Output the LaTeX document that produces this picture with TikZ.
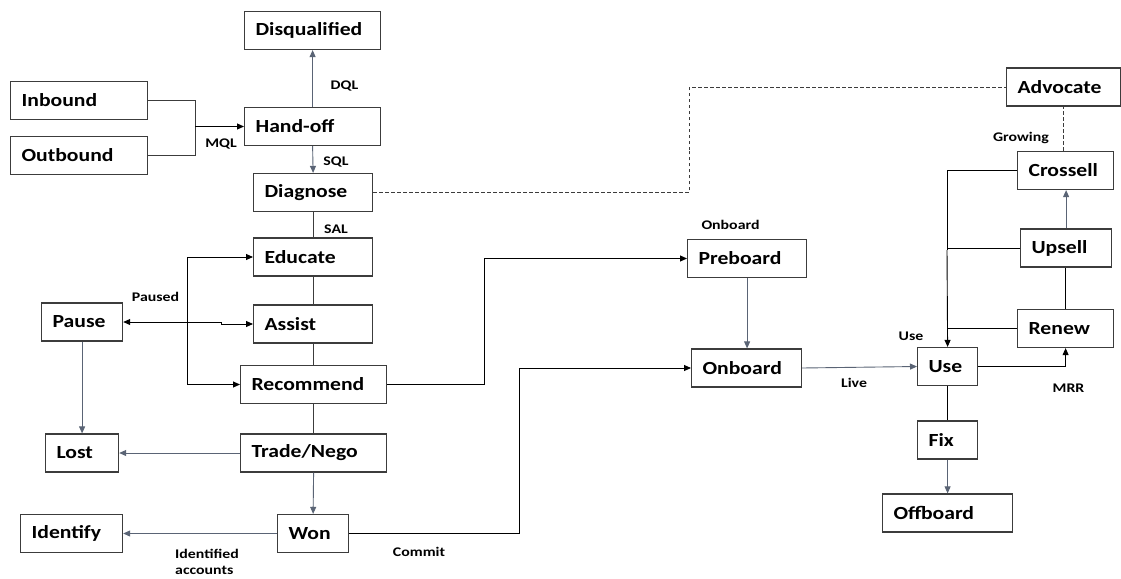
\documentclass[tikz,border=0pt]{standalone}
\usepackage{fontspec}
\setmainfont{Carlito}
\usetikzlibrary{arrows.meta,calc}
\definecolor{boxline}{HTML}{3C3C3C}
\definecolor{slate}{HTML}{5A6475}
\newcommand{\bxt}[1]{\scalebox{1.17}[1]{#1}}
\newcommand{\lbt}[1]{\scalebox{1.2}[1]{#1}}
\tikzset{
  box/.style={draw=boxline, line width=1.2pt, fill=white, inner xsep=11pt, inner ysep=0pt,
    minimum height=38pt, align=left, anchor=west,
    font=\fontsize{18.5}{20}\selectfont\bfseries},
  lbl/.style={font=\fontsize{13.2}{16}\selectfont\bfseries, inner sep=0pt, align=left},
  blk/.style={draw=black, line width=0.9pt, -{Triangle[length=7pt,width=6pt]}},
  gry/.style={draw=slate, line width=0.9pt, -{Triangle[length=7pt,width=6pt]}},
  pln/.style={draw=boxline, line width=0.9pt},
  dsh/.style={draw=boxline, line width=0.9pt, dash pattern=on 3.5pt off 2.5pt}
}
\newcommand{\bx}[5]{\node[box, text width=#4pt-22pt] (#1) at (#2,#3) {\bxt{#5}};}
\begin{document}
\begin{tikzpicture}[x=1pt,y=-1pt]
\useasboundingbox[fill=white] (0,0) rectangle (1121,578);
% boxes: name, left x, center y, width, text
\bx{disq}{244}{30.5}{136}{Disqualified}
\bx{inb}{10}{100.5}{137}{Inbound}
\bx{outb}{10}{155.5}{137}{Outbound}
\bx{hand}{244}{126.5}{136}{Hand-off}
\bx{diag}{253}{192.5}{119}{Diagnose}
\bx{edu}{253}{257}{119}{Educate}
\bx{assist}{253}{324}{119}{Assist}
\bx{rec}{240}{384.5}{146}{Recommend}
\bx{pause}{41}{322}{81}{Pause}
\bx{lost}{45}{453}{73}{Lost}
\bx{trade}{240}{453}{146}{Trade/Nego}
\bx{won}{277}{533.5}{71}{Won}
\bx{ident}{20}{533.5}{102}{Identify}
\bx{pre}{687}{258.5}{119}{Preboard}
\bx{onb}{691}{368}{110}{Onboard}
\bx{adv}{1006}{87}{114}{Advocate}
\bx{cross}{1017}{170.5}{96}{Crossell}
\bx{up}{1020}{248}{91}{Upsell}
\bx{renew}{1017}{328.5}{96}{Renew}
\bx{use}{917}{366.5}{60}{Use}
\bx{fix}{917}{440}{60}{Fix}
\bx{off}{882}{513}{130}{Offboard}
% helper coordinates
\coordinate (mj) at (195,126.5);
\coordinate (vx) at (187,300);
\coordinate (rj) at (484,300);
\coordinate (wj) at (519,450);
\coordinate (dj) at (689,150);
\coordinate (uj) at (947,250);
% connectors
\draw[pln] (inb.east) -| (mj);
\draw[pln] (outb.east) -| (mj);
\draw[blk] (mj) -- (hand.west);
\draw[gry] (hand.north) -- (disq.south);
\draw[gry] (hand.south) -- (diag.north);
\draw[pln] (diag.south) -- (edu.north);
\draw[pln] (edu.south) -- (assist.north);
\draw[pln] (assist.south) -- (assist.south |- rec.north);
\draw[pln] (rec.south) -- (trade.north);
\draw[gry] (trade.west) -- (lost.east);
\draw[gry] (trade.south) -- (won.north);
\draw[gry] (won.west) -- (ident.east);
\draw[gry] (pause.south) -- (lost.north);
\draw[blk,{Triangle[length=7pt,width=6pt]}-{Triangle[length=7pt,width=6pt]}] (pause.east) -- ++(98,0) |- (assist.west);
\draw[blk] (vx |- rec.west) |- (edu.west);
\draw[blk] (vx |- edu.west) |- (rec.west);
\draw[pln,draw=black] (rec.east) -| (rj);
\draw[blk] (rj) |- (pre.west);
\draw[pln,draw=black] (won.east) -| (wj);
\draw[blk] (wj) |- (onb.west);
\draw[gry] (pre.south) -- (pre.south |- onb.north);
\draw[gry] (onb.east) -- (use.west);
\draw[blk] (use.east) -| (renew.south);
\draw[pln,draw=black] (renew.north) -- (renew.north |- up.south);
\draw[gry] (up.north) -- (up.north |- cross.south);
\draw[pln,draw=black] (cross.west) -| (uj);
\draw[pln,draw=black] (up.west) -- (uj |- up.west);
\draw[pln,draw=black] (renew.west) -- (uj |- renew.west);
\draw[blk] (uj) -- (use.north);
\draw[pln,draw=black] (use.south) -- (fix.north);
\draw[gry] (fix.south) -- (off.north);
\draw[dsh] (cross.north -| adv.south) -- (adv.south);
\draw[dsh] (diag.east) -| (dj);
\draw[dsh] (dj) |- (adv.west);
% labels
\node[lbl] (lDQL) at (344.5,86) {\lbt{DQL}};
\node[lbl] (lMQL) at (221,144) {\lbt{MQL}};
\node[lbl] (lSQL) at (336,162) {\lbt{SQL}};
\node[lbl] (lSAL) at (336,229) {\lbt{SAL}};
\node[lbl] (lPaused) at (155.5,297) {\lbt{Paused}};
\node[lbl] (lIdent) at (207,562) {\lbt{Identified}\\\lbt{accounts}};
\node[lbl] (lCommit) at (419,552) {\lbt{Commit}};
\node[lbl] (lOnb) at (730.5,225) {\lbt{Onboard}};
\node[lbl] (lLive) at (854,383) {\lbt{Live}};
\node[lbl] (lGrow) at (1021,138) {\lbt{Growing}};
\node[lbl] (lUse) at (911,336) {\lbt{Use}};
\node[lbl] (lMRR) at (1068.5,388) {\lbt{MRR}};
\end{tikzpicture}
\end{document}
